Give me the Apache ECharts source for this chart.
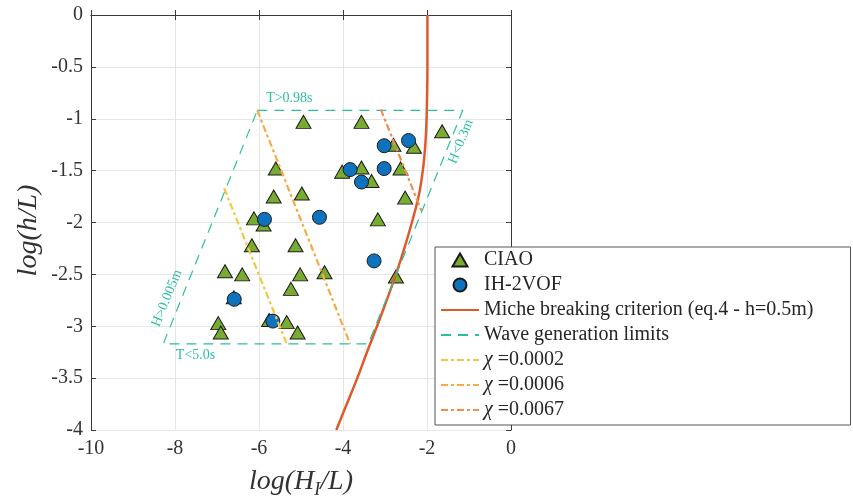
<!DOCTYPE html>
<html>
<head>
<meta charset="utf-8">
<script src="https://cdn.jsdelivr.net/npm/echarts@6/dist/echarts.min.js"></script>
<style>
html, body { margin: 0; padding: 0; background: #fff; }
#chart { width: 853px; height: 504px; }
</style>
</head>
<body>
<div id="chart"></div>
<script>
// CIAO (triangles)
const ciaoX = [-4.94, -3.56, -1.64, -2.80, -2.31, -5.60, -4.02, -3.56, -2.63, -3.32,
               -5.65, -4.98, -2.52, -6.12, -5.89, -3.17, -6.17, -5.13, -6.81, -6.40,
               -5.02, -4.44, -2.74, -5.24, -6.60, -6.97, -6.91, -5.76, -5.34, -5.08]
const ciaoY = [-1.03, -1.03, -1.12, -1.25, -1.27, -1.48, -1.51, -1.47, -1.48, -1.60,
               -1.75, -1.72, -1.76, -1.96, -2.02, -1.97, -2.22, -2.22, -2.47, -2.50,
               -2.50, -2.48, -2.52, -2.64, -2.72, -2.97, -3.06, -2.94, -2.96, -3.06]

// IH-2VOF (circles)
const vofX = [-2.44, -3.02, -3.83, -3.02, -3.56, -5.87, -4.56, -3.26, -6.59, -5.67]
const vofY = [-1.21, -1.26, -1.49, -1.48, -1.61, -1.97, -1.95, -2.37, -2.74, -2.95]

// Miche breaking criterion
const micheX = [-1.99, -1.99, -2.01, -2.04, -2.10, -2.20, -2.36, -2.54, -2.74, -2.96, -3.19, -3.43, -3.66, -3.91, -4.16]
const micheY = [0, -0.5, -1.0, -1.25, -1.5, -1.75, -2.0, -2.25, -2.5, -2.75, -3.0, -3.25, -3.5, -3.75, -4.0]

// wave generation limits (closed)
const limitsX = [-6.04, -1.15, -3.40, -8.28, -6.04]
const limitsY = [-0.92, -0.92, -3.17, -3.17, -0.92]

// chi lines
const chi1X = [-6.83, -5.34]
const chi1Y = [-1.67, -3.17]
const chi2X = [-6.04, -3.83]
const chi2Y = [-0.92, -3.17]
const chi3X = [-3.10, -2.13]
const chi3Y = [-0.91, -1.89]

const xTicks = [-10, -8, -6, -4, -2, 0]
const yTicks = [0, -0.5, -1, -1.5, -2, -2.5, -3, -3.5, -4]

const pair = (xs, ys) => xs.map((x, i) => [x, ys[i]])

const serif = 'Liberation Serif'
const axisCol = '#3a3a3a'
const teal = '#2cbf9f'

const chart = echarts.init(document.getElementById('chart'), null, { renderer: 'canvas' })

const lineSeries = (name, xs, ys, color, width, dash, smooth) => ({
    name: name,
    type: 'line',
    data: pair(xs, ys),
    symbol: 'none',
    smooth: smooth || false,
    lineStyle: { color: color, width: width, type: dash },
    itemStyle: { color: color },
    z: 3
})

// legend entry for a line: hide the symbol that the legend puts on it
const lineEntry = (name) => ({ name: name, itemStyle: { opacity: 0 } })

const option = {
    animation: false,
    grid: { left: 91, top: 15, width: 420, height: 420 },
    xAxis: [{
        type: 'value', min: -10, max: 0, interval: 2,
        name: '{i|log(H}{s|I}{i|/L)}',
        nameLocation: 'middle', nameGap: 35,
        nameTextStyle: {
            rich: {
                i: { fontFamily: serif, fontStyle: 'italic', fontSize: 28, color: '#333', lineHeight: 34 },
                s: { fontFamily: serif, fontStyle: 'italic', fontSize: 18, color: '#333', lineHeight: 18, verticalAlign: 'bottom' }
            }
        },
        axisLine: { lineStyle: { color: axisCol } },
        axisTick: { inside: true, length: 5, lineStyle: { color: axisCol } },
        axisLabel: { fontFamily: serif, fontSize: 20, color: '#333', margin: 9,
            formatter: v => xTicks.includes(v) ? String(v) : '' },
        splitLine: { lineStyle: { color: '#e6e6e6' } }
    }, {
        type: 'value', min: -10, max: 0, interval: 2, position: 'top',
        axisLine: { show: true, onZero: false, lineStyle: { color: axisCol } },
        axisTick: { show: true, inside: true, length: 5, lineStyle: { color: axisCol } },
        axisLabel: { show: false },
        splitLine: { show: false }
    }],
    yAxis: [{
        type: 'value', min: -4, max: 0, interval: 0.5,
        name: 'log(h/L)',
        nameLocation: 'middle', nameGap: 48, nameRotate: 90,
        nameTextStyle: { fontFamily: serif, fontStyle: 'italic', fontSize: 28, color: '#333',
                         padding: [0, 16, 0, 0] },
        axisLine: { show: true, onZero: false, lineStyle: { color: axisCol } },
        axisTick: { show: true, inside: true, length: 5, lineStyle: { color: axisCol } },
        axisLabel: { fontFamily: serif, fontSize: 20, color: '#333', margin: 8,
            formatter: v => yTicks.includes(v) ? String(v) : '' },
        splitLine: { lineStyle: { color: '#e6e6e6' } }
    }, {
        type: 'value', min: -4, max: 0, interval: 0.5, position: 'right',
        axisLine: { show: true, onZero: false, lineStyle: { color: axisCol } },
        axisTick: { show: true, inside: true, length: 5, lineStyle: { color: axisCol } },
        axisLabel: { show: false },
        splitLine: { show: false }
    }],
    legend: {
        orient: 'vertical',
        left: 435, top: 247,
        padding: [3, 37, 5, 5],
        itemWidth: 38, itemHeight: 14, itemGap: 5,
        backgroundColor: '#fff',
        borderColor: '#555', borderWidth: 1,
        textStyle: {
            fontFamily: serif, fontSize: 20, color: '#262626',
            rich: { c: { fontFamily: serif, fontStyle: 'italic', fontSize: 20, color: '#262626' } }
        },
        formatter: name => name.startsWith('χ') ? '{c|χ}' + name.slice(1) : name,
        data: [
            { name: 'CIAO', icon: 'path://M0,0M38,14M11.5,13.5L19,0.5L26.5,13.5Z' },
            { name: 'IH-2VOF', icon: 'path://M0,0M38,14M19,0.5A6.5,6.5,0,1,1,18.99,0.5Z' },
            lineEntry('Miche breaking criterion (eq.4 - h=0.5m)'),
            lineEntry('Wave generation limits'),
            lineEntry('χ =0.0002'),
            lineEntry('χ =0.0006'),
            lineEntry('χ =0.0067')
        ]
    },
    series: [
        {
            name: 'CIAO', type: 'scatter', symbol: 'triangle', symbolSize: [15, 13],
            data: pair(ciaoX, ciaoY),
            itemStyle: { color: '#77ac30', borderColor: '#1a1a1a', borderWidth: 1, opacity: 1 },
            z: 2
        },
        {
            name: 'IH-2VOF', type: 'scatter', symbol: 'circle', symbolSize: 14,
            data: pair(vofX, vofY),
            itemStyle: { color: '#0f72bd', borderColor: '#1a1a1a', borderWidth: 1, opacity: 1 },
            z: 2
        },
        lineSeries('Miche breaking criterion (eq.4 - h=0.5m)', micheX, micheY, '#de5a2a', 2.5, 'solid', 0.3),
        lineSeries('Wave generation limits', limitsX, limitsY, teal, 1.2, [10, 7]),
        lineSeries('χ =0.0002', chi1X, chi1Y, '#f2c744', 2.2, [7, 3, 3, 3]),
        lineSeries('χ =0.0006', chi2X, chi2Y, '#f7aa45', 2.2, [7, 3, 3, 3]),
        lineSeries('χ =0.0067', chi3X, chi3Y, '#ee8f4c', 2.2, [7, 3, 3, 3])
    ]
}

chart.setOption(option)

// annotations of the generation limits, anchored in data coordinates
const notes = [
    { text: 'T>0.98s', at: [-5.83, -0.80], rot: 0, align: 'left' },
    { text: 'T<5.0s', at: [-7.98, -3.28], rot: 0, align: 'left' },
    { text: 'H>0.005m', at: [-8.19, -2.73], rot: 68, align: 'center' },
    { text: 'H<0.3m', at: [-1.19, -1.22], rot: 68, align: 'center' }
]

chart.setOption({
    graphic: notes.map(n => {
        const p = chart.convertToPixel({ gridIndex: 0 }, n.at)
        return {
            type: 'text', x: p[0], y: p[1], rotation: n.rot * Math.PI / 180,
            style: { text: n.text, fill: teal, font: '14px "' + serif + '"',
                     textAlign: n.align, textVerticalAlign: 'middle' },
            z: 10
        }
    })
})
</script>
</body>
</html>
